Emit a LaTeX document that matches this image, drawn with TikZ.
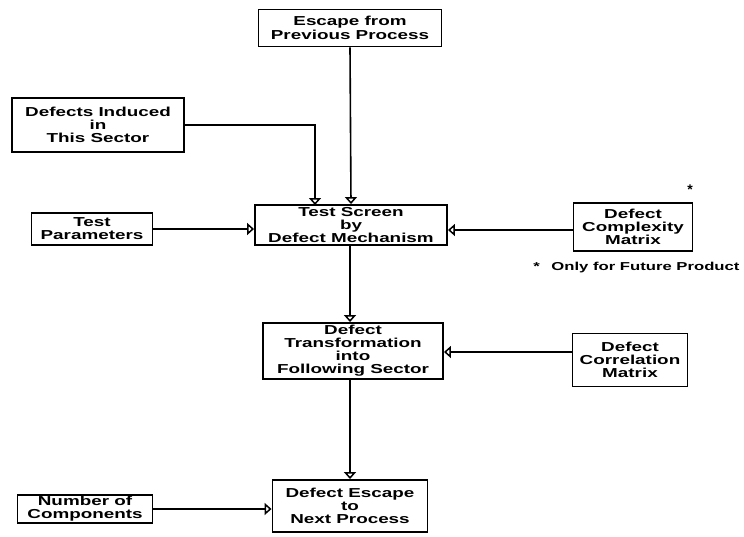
\documentclass[tikz,border=0pt]{standalone}
\usepackage{fontspec}
\setmainfont{Liberation Sans}
\newfontfamily\widefont[FakeStretch=1.45]{Liberation Sans}
\usetikzlibrary{arrows.meta}
\begin{document}
\begin{tikzpicture}[x=1pt,y=-1pt,
  box/.style={draw,line width=1.9pt,align=center,font=\widefont\bfseries\fontsize{13}{13}\selectfont,inner sep=0pt},
  conn/.style={line width=1.6pt,-{Triangle[open,length=7pt,width=12pt,line width=1.5pt]}}]
\useasboundingbox (0,0) rectangle (744,536);
\node[box,minimum width=183pt,minimum height=37pt] (esc) at (350,28) {Escape from\\[1pt]Previous Process};
\node[box,minimum width=172pt,minimum height=54pt] (ind) at (98,125) {Defects Induced\\in\\This Sector};
\node[box,minimum width=192pt,minimum height=40pt] (ts) at (351,225) {Test Screen\\by\\Defect Mechanism};
\node[box,minimum width=121pt,minimum height=32pt] (tp) at (92,229) {Test\\Parameters};
\node[box,minimum width=119pt,minimum height=48pt] (dcm) at (633,227) {Defect\\Complexity\\Matrix};
\node[font=\bfseries\fontsize{14}{14}\selectfont] (ast) at (690,190) {*};
\node[anchor=east,font=\widefont\bfseries\fontsize{11.5}{12}\selectfont] (note) at (743,268) {*\quad Only for Future Product};
\node[box,minimum width=180pt,minimum height=56pt] (tr) at (353,351) {Defect\\Transformation\\into\\Following Sector};
\node[box,minimum width=115pt,minimum height=53pt] (dcor) at (630,360) {Defect\\Correlation\\Matrix};
\node[box,minimum width=155pt,minimum height=52pt] (de) at (350,506) {Defect Escape\\to\\Next Process};
\node[box,minimum width=135pt,minimum height=28pt] (nc) at (85,509) {Number of\\Components};
\draw[conn] (esc.south) -- (ts.north);
\draw[conn] (ind.east |- 0,125) -| (315,205);
\draw[conn] (tp.east) -- (ts.west |- tp.east);
\draw[conn] (dcm.west |- 0,230) -- (ts.east |- 0,230);
\draw[conn] (ts.south -| 350,0) -- (tr.north -| 350,0);
\draw[conn] (dcor.west |- 0,352) -- (tr.east |- 0,352);
\draw[conn] (tr.south -| 350,0) -- (de.north -| 350,0);
\draw[conn] (nc.east) -- (de.west |- nc.east);
\end{tikzpicture}
\end{document}
